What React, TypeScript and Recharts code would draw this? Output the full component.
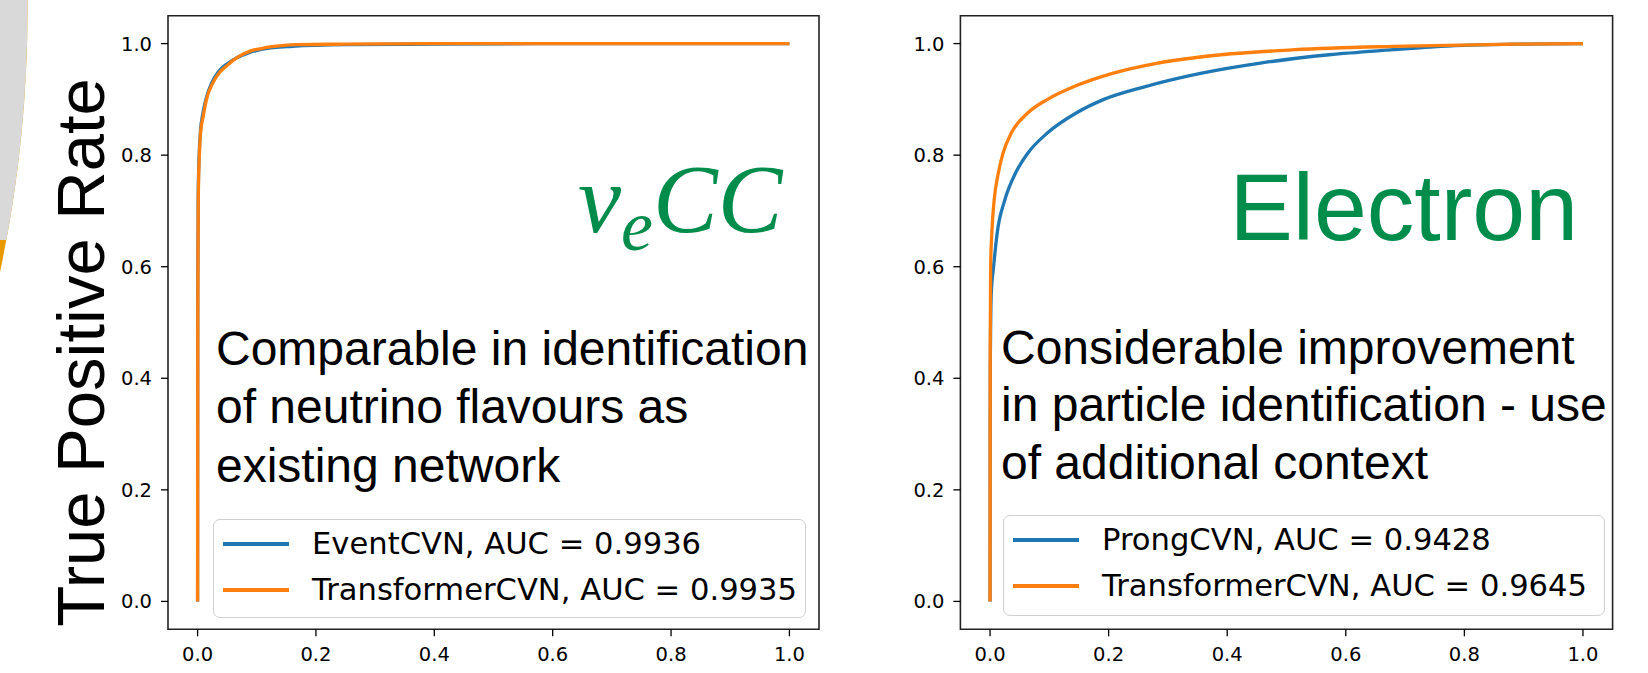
import { LineChart, Line, XAxis, YAxis, ReferenceArea, Legend, Customized } from 'recharts';

/* ── data ─────────────────────────────────────── */

const AXIS_TICKS = [0, 0.2, 0.4, 0.6, 0.8, 1.0];

// nu_e CC panel
const eventFpr = [0, 0.0003, 0.001, 0.002, 0.003, 0.005, 0.009, 0.014, 0.024, 0.034, 0.045, 0.056, 0.067, 0.085, 0.11, 0.16, 0.25, 0.4, 0.6, 0.8, 1.0];
const eventTpr = [0, 0.55, 0.72, 0.78, 0.81, 0.845, 0.875, 0.9, 0.93, 0.948, 0.96, 0.968, 0.975, 0.983, 0.99, 0.995, 0.998, 0.999, 1.0, 1.0, 1.0];
const transNuFpr = [0, 0.0003, 0.001, 0.002, 0.003, 0.005, 0.0095, 0.015, 0.026, 0.037, 0.049, 0.06, 0.0715, 0.09, 0.117, 0.17, 0.25, 0.4, 0.6, 0.8, 1.0];
const transNuTpr = [0, 0.5, 0.7, 0.77, 0.8, 0.84, 0.87, 0.9, 0.93, 0.948, 0.96, 0.97, 0.978, 0.987, 0.993, 0.998, 0.999, 1.0, 1.0, 1.0, 1.0];

// electron panel
const prongFpr = [0, 0.0003, 0.002, 0.006, 0.012, 0.025, 0.043, 0.064, 0.097, 0.146, 0.192, 0.262, 0.357, 0.456, 0.572, 0.68, 0.76, 0.886, 1.0];
const prongTpr = [0, 0.4, 0.55, 0.6, 0.66, 0.72, 0.768, 0.804, 0.84, 0.876, 0.9, 0.923, 0.947, 0.965, 0.98, 0.989, 0.995, 0.999, 1.0];
const transElFpr = [0, 0.0003, 0.001, 0.003, 0.007, 0.014, 0.022, 0.036, 0.064, 0.097, 0.142, 0.208, 0.283, 0.39, 0.514, 0.68, 0.886, 1.0];
const transElTpr = [0, 0.45, 0.6, 0.66, 0.72, 0.768, 0.804, 0.84, 0.876, 0.9, 0.923, 0.947, 0.965, 0.98, 0.989, 0.995, 0.999, 1.0];

const BLUE = '#1f77b4';
const ORANGE = '#ff7f0e';
const GREEN = '#008c4b';

const zip = (fpr: number[], tpr: number[]) => fpr.map((x, i) => ({ fpr: x, tpr: tpr[i] }));

/* ── legend box ───────────────────────────────── */

function RocLegend({ payload }: any) {
  return (
    <div
      style={{
        width: '100%',
        height: '100%',
        boxSizing: 'border-box',
        border: '1px solid #cfcfcf',
        borderRadius: 7,
        background: 'rgba(255,255,255,0.8)',
        paddingTop: 1,
        fontFamily: 'DejaVu Sans',
        fontSize: 30.6,
        color: '#000',
      }}
    >
      {(payload ?? []).map((p: any) => (
        <div key={p.value} style={{ display: 'flex', alignItems: 'center', height: 46 }}>
          <div style={{ marginLeft: 9, width: 66, height: 4, background: p.color }} />
          <span style={{ marginLeft: 23, lineHeight: 1, whiteSpace: 'nowrap' }}>{p.value}</span>
        </div>
      ))}
    </div>
  );
}

/* ── one ROC panel ────────────────────────────── */

interface Series {
  name: string;
  color: string;
  fpr: number[];
  tpr: number[];
}

interface PanelProps {
  left: number;
  width: number;
  marginLeft: number;
  marginRight: number;
  series: Series[];
  legendBox: { left: number; top: number; width: number; height: number };
  annotations: () => JSX.Element;
}

const tickStyle = { fontFamily: 'DejaVu Sans', fontSize: 19.5, fill: '#000' };

function RocPanel({ left, width, marginLeft, marginRight, series, legendBox, annotations }: PanelProps) {
  return (
    <div style={{ position: 'absolute', left, top: 0 }}>
      <LineChart
        width={width}
        height={673}
        margin={{ top: 15.7, right: marginRight, bottom: 3.7, left: marginLeft }}
      >
        <Customized component={annotations} />
        <XAxis
          type="number"
          dataKey="fpr"
          domain={[-0.05, 1.05]}
          ticks={AXIS_TICKS}
          tickFormatter={(v: number) => v.toFixed(1)}
          allowDataOverflow
          height={40}
          axisLine={false}
          tickSize={7}
          tickMargin={11}
          tickLine={{ stroke: '#000', strokeWidth: 1.3 }}
          tick={tickStyle}
        />
        <YAxis
          type="number"
          dataKey="tpr"
          domain={[-0.05, 1.05]}
          ticks={AXIS_TICKS}
          tickFormatter={(v: number) => v.toFixed(1)}
          allowDataOverflow
          width={60}
          axisLine={false}
          tickSize={7}
          tickMargin={9}
          tickLine={{ stroke: '#000', strokeWidth: 1.3 }}
          tick={tickStyle}
        />
        <ReferenceArea
          x1={-0.05}
          x2={1.05}
          y1={-0.05}
          y2={1.05}
          fill="none"
          fillOpacity={0}
          stroke="#222"
          strokeWidth={1.6}
          ifOverflow="visible"
        />
        {series.map((s) => (
          <Line
            key={s.name}
            name={s.name}
            data={zip(s.fpr, s.tpr)}
            dataKey="tpr"
            type="monotone"
            stroke={s.color}
            strokeWidth={3.3}
            dot={false}
            activeDot={false}
            isAnimationActive={false}
          />
        ))}
        <Legend
          layout="vertical"
          align="center"
          verticalAlign="middle"
          content={<RocLegend />}
          wrapperStyle={{
            left: legendBox.left,
            top: legendBox.top,
            width: legendBox.width,
            height: legendBox.height,
          }}
        />
      </LineChart>
    </div>
  );
}

/* ── annotations ──────────────────────────────── */

const captionFont = { fontFamily: 'Liberation Sans', fontSize: 48, fill: '#000' };

function NuAnnotations() {
  return (
    <g>
      <clipPath id="arcClip">
        <rect x={0} y={0} width={60} height={240} />
      </clipPath>
      <circle cx={-1234.5} cy={10} r={1262} fill="#e89a00" />
      <circle cx={-1234.5} cy={10} r={1262} fill="#d9d9d9" clipPath="url(#arcClip)" />
      <text
        x={104}
        y={352.5}
        transform="rotate(-90 104 352.5)"
        textAnchor="middle"
        style={{ fontFamily: 'Liberation Sans', fontSize: 67, fill: '#000' }}
      >
        True Positive Rate
      </text>
      <text x={578} y={231.7} style={{ fontFamily: 'Liberation Serif', fontStyle: 'italic', fontSize: 97, fill: GREEN }}>
        <tspan>ν</tspan>
        <tspan dy={18} fontSize={72}>e</tspan>
        <tspan dy={-18} fontSize={97}>CC</tspan>
      </text>
      <text x={216} y={365} style={captionFont}>Comparable in identification</text>
      <text x={216} y={423.3} style={captionFont}>of neutrino flavours as</text>
      <text x={216} y={481.7} style={captionFont}>existing network</text>
    </g>
  );
}

const RIGHT_LEFT = 842;

function ElectronAnnotations() {
  const ox = -RIGHT_LEFT;
  return (
    <g>
      <text
        x={1578 + ox}
        y={240}
        textAnchor="end"
        style={{ fontFamily: 'Liberation Sans', fontSize: 95, fill: GREEN }}
      >
        Electron
      </text>
      <text x={1001 + ox} y={363.5} style={captionFont}>Considerable improvement</text>
      <text x={1001 + ox} y={421} style={captionFont}>in particle identification - use</text>
      <text x={1001 + ox} y={478.5} style={captionFont}>of additional context</text>
    </g>
  );
}

/* ── page ─────────────────────────────────────── */

export default function App() {
  return (
    <div style={{ position: 'absolute', left: 0, top: 0, width: 1648, height: 673, background: '#fff', overflow: 'hidden' }}>
      <RocPanel
        left={0}
        width={830}
        marginLeft={108}
        marginRight={11}
        series={[
          { name: 'EventCVN, AUC = 0.9936', color: BLUE, fpr: eventFpr, tpr: eventTpr },
          { name: 'TransformerCVN, AUC = 0.9935', color: ORANGE, fpr: transNuFpr, tpr: transNuTpr },
        ]}
        legendBox={{ left: 213, top: 519, width: 593, height: 99 }}
        annotations={NuAnnotations}
      />
      <RocPanel
        left={RIGHT_LEFT}
        width={1648 - RIGHT_LEFT}
        marginLeft={960.4 - RIGHT_LEFT - 60}
        marginRight={1648 - 1612.6}
        series={[
          { name: 'ProngCVN, AUC = 0.9428', color: BLUE, fpr: prongFpr, tpr: prongTpr },
          { name: 'TransformerCVN, AUC = 0.9645', color: ORANGE, fpr: transElFpr, tpr: transElTpr },
        ]}
        legendBox={{ left: 1003 - RIGHT_LEFT, top: 515, width: 602, height: 101 }}
        annotations={ElectronAnnotations}
      />
    </div>
  );
}
